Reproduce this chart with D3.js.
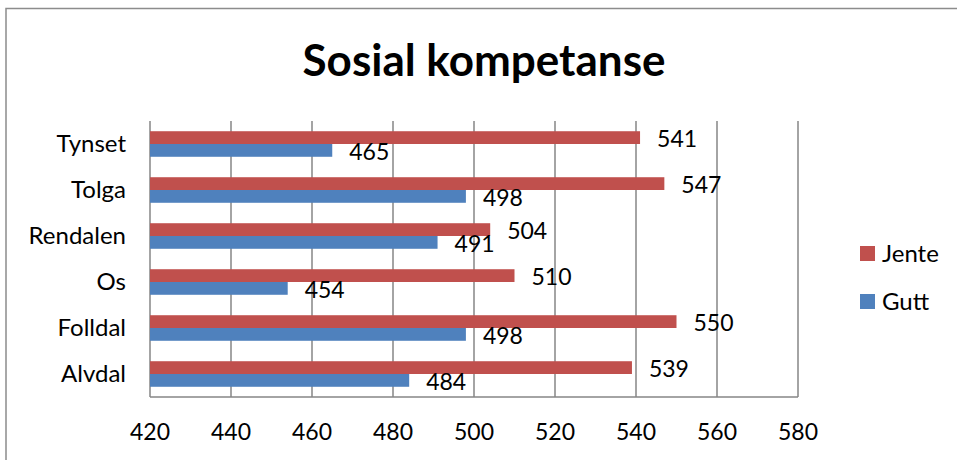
<!DOCTYPE html>
<html>
<head>
<meta charset="utf-8">
<script src="https://cdn.jsdelivr.net/npm/d3@7"></script>
<style>
  body { margin: 0; background: #fff; }
  text { font-family: Lato, "Open Sans", sans-serif; fill: #000; }
</style>
</head>
<body>
<div id="chart"></div>
<script>
const width = 957;
const height = 460;

// data
const kommuner = ["Tynset", "Tolga", "Rendalen", "Os", "Folldal", "Alvdal"];
const serier = ["Jente", "Gutt"];
const jente = [541, 547, 504, 510, 550, 539];
const gutt = [465, 498, 491, 454, 498, 484];
const xTicks = [420, 440, 460, 480, 500, 520, 540, 560, 580];
const farger = ["#C0504D", "#4F81BD"];

const plot = { left: 150, right: 798, top: 121, bottom: 397 };

const svg = d3.select("#chart").append("svg")
    .attr("width", width)
    .attr("height", height);

// outer chart frame (only left/top edges visible)
svg.append("rect")
    .attr("x", 6)
    .attr("y", 8.5)
    .attr("width", 1200)
    .attr("height", 1200)
    .attr("fill", "none")
    .attr("stroke", "#8c8c8c")
    .attr("stroke-width", 1.5);

svg.append("text")
    .attr("x", 484)
    .attr("y", 76)
    .attr("text-anchor", "middle")
    .style("font-size", "44px")
    .style("font-weight", "bold")
    .text("Sosial kompetanse");

const x = d3.scaleLinear()
    .domain([420, 580])
    .range([plot.left, plot.right]);

const y = d3.scaleBand()
    .domain(kommuner)
    .range([plot.top, plot.bottom]);

const ySub = d3.scaleBand()
    .domain(serier)
    .range([0, y.bandwidth()])
    .paddingOuter(0.8);

const color = d3.scaleOrdinal().domain(serier).range(farger);

// gridlines
svg.append("g")
    .selectAll("line")
    .data(xTicks)
    .join("line")
    .attr("x1", d => x(d))
    .attr("x2", d => x(d))
    .attr("y1", plot.top)
    .attr("y2", plot.bottom)
    .attr("stroke", "#868686")
    .attr("stroke-width", 1.5);

// bottom axis line
svg.append("line")
    .attr("x1", plot.left)
    .attr("x2", plot.right)
    .attr("y1", plot.bottom)
    .attr("y2", plot.bottom)
    .attr("stroke", "#868686")
    .attr("stroke-width", 1.5);

// x tick labels
svg.append("g")
    .selectAll("text")
    .data(xTicks)
    .join("text")
    .attr("x", d => x(d))
    .attr("y", 432)
    .attr("dy", "0.35em")
    .attr("text-anchor", "middle")
    .style("font-size", "23px")
    .text(d => d);

// category labels
svg.append("g")
    .selectAll("text")
    .data(kommuner)
    .join("text")
    .attr("x", 126)
    .attr("y", d => y(d) + y.bandwidth() / 2)
    .attr("dy", "0.35em")
    .attr("text-anchor", "end")
    .style("font-size", "24px")
    .text(d => d);

const rows = kommuner.map((k, i) => ({ kommune: k, Jente: jente[i], Gutt: gutt[i] }));

const groups = svg.append("g")
    .selectAll("g")
    .data(rows)
    .join("g")
    .attr("transform", d => `translate(0,${y(d.kommune)})`);

groups.selectAll("rect")
    .data(d => serier.map(s => ({ serie: s, value: d[s] })))
    .join("rect")
    .attr("x", plot.left)
    .attr("y", d => ySub(d.serie))
    .attr("width", d => x(d.value) - plot.left)
    .attr("height", ySub.bandwidth())
    .attr("fill", d => color(d.serie));

groups.selectAll("text")
    .data(d => serier.map(s => ({ serie: s, value: d[s] })))
    .join("text")
    .attr("x", d => x(d.value) + 17)
    .attr("y", d => ySub(d.serie) + ySub.bandwidth() / 2 + 1.5)
    .attr("dy", "0.35em")
    .style("font-size", "23px")
    .text(d => d.value);

// legend
const legend = svg.append("g")
    .selectAll("g")
    .data(serier)
    .join("g")
    .attr("transform", (d, i) => `translate(860,${246 + i * 48})`);

legend.append("rect")
    .attr("width", 15)
    .attr("height", 15)
    .attr("fill", d => color(d));

legend.append("text")
    .attr("x", 22)
    .attr("y", 7.5)
    .attr("dy", "0.35em")
    .style("font-size", "24px")
    .text(d => d);
</script>
</body>
</html>
